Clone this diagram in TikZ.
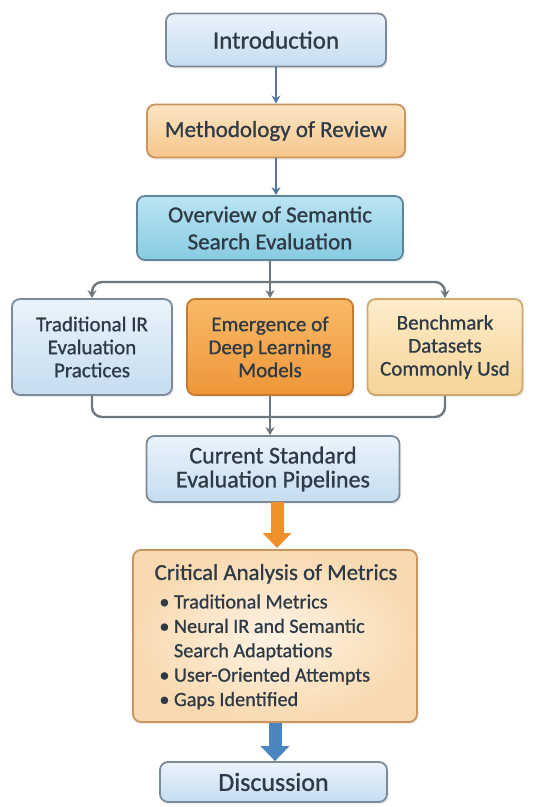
\documentclass[tikz,border=0pt]{standalone}
\usepackage{fontspec}
\setmainfont{Carlito}[FakeBold=0.9]
\usetikzlibrary{arrows.meta,shadows}

\definecolor{ink}{HTML}{2E3A46}
\definecolor{blueline}{HTML}{7B8B9A}
\definecolor{bluetop}{HTML}{EAF3FB}
\definecolor{bluebot}{HTML}{C5DDF0}
\definecolor{tealline}{HTML}{5F8799}
\definecolor{tealtop}{HTML}{BAE4F2}
\definecolor{tealbot}{HTML}{88CBE2}
\definecolor{orangeline}{HTML}{C8965E}
\definecolor{peachtop}{HTML}{FDE5C4}
\definecolor{peachbot}{HTML}{F6C58A}
\definecolor{deepline}{HTML}{C47A30}
\definecolor{deeptop}{HTML}{F9BA68}
\definecolor{deepbot}{HTML}{EE9638}
\definecolor{sandline}{HTML}{CFA870}
\definecolor{sandtop}{HTML}{FDECCA}
\definecolor{sandbot}{HTML}{F7D498}
\definecolor{critin}{HTML}{FEF3E4}
\definecolor{critout}{HTML}{F9DAB0}
\definecolor{linkgray}{HTML}{6E767E}
\definecolor{linkblue}{HTML}{5577A0}
\definecolor{fatorange}{HTML}{F0902A}
\definecolor{fatblue}{HTML}{4A85C0}

\tikzset{
  box/.style={draw, line width=0.9pt, rounded corners=4pt, align=center,
    text=ink, font=\fontsize{11.5}{13.5}\selectfont,
    drop shadow={opacity=0.12, shadow xshift=0.8pt, shadow yshift=-1.2pt}},
  bluebox/.style={box, draw=blueline, top color=bluetop, bottom color=bluebot},
  tealbox/.style={box, draw=tealline, top color=tealtop, bottom color=tealbot},
  peachbox/.style={box, draw=orangeline, top color=peachtop, bottom color=peachbot},
  orangebox/.style={box, draw=deepline, top color=deeptop, bottom color=deepbot},
  sandbox/.style={box, draw=sandline, top color=sandtop, bottom color=sandbot},
  rowtext/.style={font=\fontsize{10.5}{11.5}\selectfont},
  link/.style={draw=linkgray, line width=1.2pt, rounded corners=5pt},
  tip/.style={-{Stealth[length=4pt,width=4.5pt]}},
  fat/.style={line width=6.5pt, -{Triangle[length=7.5pt,width=14pt]}}
}

\begin{document}
\begin{tikzpicture}[x=0.5pt,y=-0.5pt]
  \useasboundingbox (0,0) rectangle (532,807);

  % main column
  \node[bluebox, font=\fontsize{12.5}{14}\selectfont, minimum width=110pt, minimum height=26.5pt] (intro) at (276,40) {Introduction};
  \node[peachbox, minimum width=129pt, minimum height=26.5pt] (method) at (276,131) {Methodology of Review};
  \node[tealbox, minimum width=133pt, minimum height=32pt] (over) at (270,228) {Overview of Semantic\\Search Evaluation};

  % the three branches
  \node[bluebox, rowtext, minimum width=80pt, minimum height=48pt] (trad) at (92,347) {Traditional IR\\Evaluation\\Practices};
  \node[orangebox, rowtext, minimum width=83pt, minimum height=48pt] (emerg) at (270,347) {Emergence of\\Deep Learning\\Models};
  \node[sandbox, rowtext, minimum width=77.5pt, minimum height=48pt] (bench) at (445,347) {Benchmark\\Datasets\\Commonly Usd};

  \node[bluebox, font=\fontsize{12}{12}\selectfont, minimum width=126.5pt, minimum height=33pt] (current) at (273,469) {Current Standard\\Evaluation Pipelines};

  % metrics box with its list
  \node[box, draw=orangeline, inner color=critin, outer color=critout,
    minimum width=142pt, minimum height=86pt] (crit) at (275,636) {};
  \node[text=ink, font=\fontsize{11.4}{13}\selectfont, anchor=north] (crittitle) at (276,557) {Critical Analysis of Metrics};
  \node[text=ink, font=\fontsize{10.1}{12.2}\selectfont, align=left, anchor=north west, inner sep=0pt] (critlist) at (159,594)
    {\textbullet\ Traditional Metrics\\
     \textbullet\ Neural IR and Semantic\\
     \phantom{\textbullet\ }Search Adaptations\\
     \textbullet\ User-Oriented Attempts\\
     \textbullet\ Gaps Identified};

  \node[bluebox, font=\fontsize{13}{15}\selectfont, minimum width=113.5pt, minimum height=20pt] (disc) at (273.5,782) {Discussion};

  % connectors
  \draw[linkblue, line width=1.2pt, tip] (intro.south) -- (method.north);
  \draw[linkblue, line width=1.2pt, tip] (method.south) -- (method.south |- over.north);

  \coordinate (split) at (270,282);
  \coordinate (merge) at (270,417);
  \draw[link] (over.south) -- (split);
  \draw[link, tip] (split) -| (trad.north);
  \draw[link, tip] (split) -| (bench.north);
  \draw[link, tip] (split) -- (emerg.north);

  \draw[link] (trad.south) |- (merge);
  \draw[link] (bench.south) |- (merge);
  \draw[link] (emerg.south) -- (merge);
  \draw[link, tip] (merge) -- (merge |- current.north);

  \draw[fat, fatorange] (277,502) -- (277,548);
  \draw[fat, fatblue] (crit.south) -- (crit.south |- disc.north);
\end{tikzpicture}
\end{document}
